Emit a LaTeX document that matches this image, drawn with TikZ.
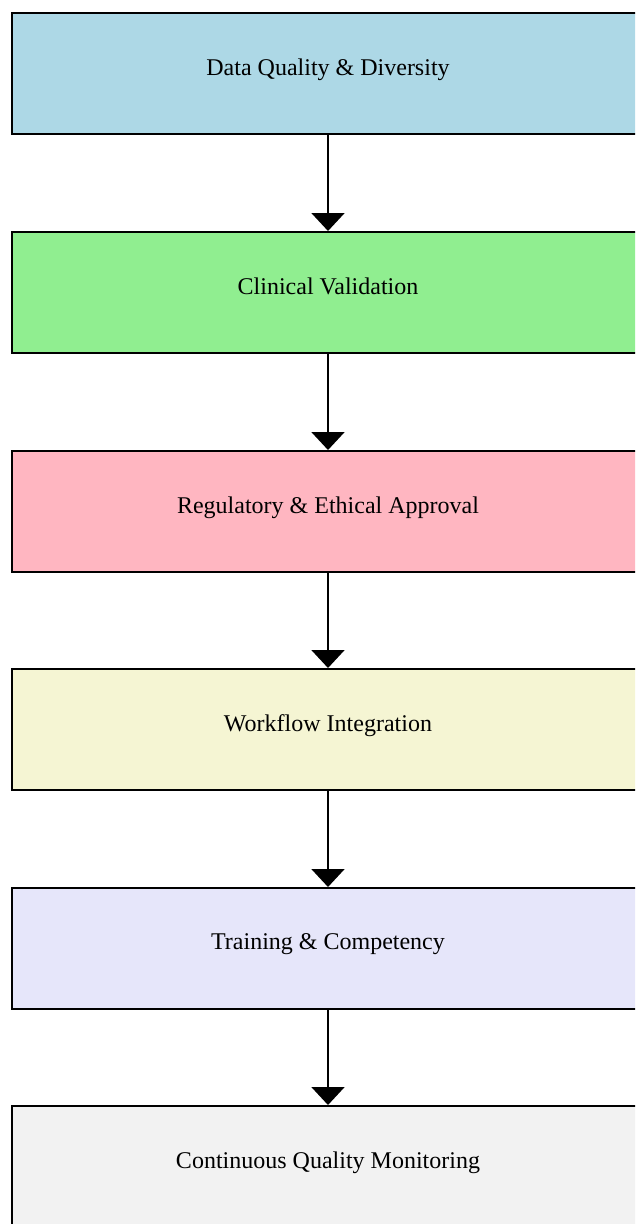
\documentclass[tikz,border=0pt]{standalone}
\usepackage{fontspec}
\setmainfont{Liberation Serif}
\usetikzlibrary{arrows.meta}
\definecolor{c1}{HTML}{ADD8E6}
\definecolor{c2}{HTML}{90EE90}
\definecolor{c3}{HTML}{FFB6C1}
\definecolor{c4}{HTML}{F5F5D3}
\definecolor{c5}{HTML}{E6E6FA}
\definecolor{c6}{HTML}{F2F2F2}
\tikzset{
  stagebox/.style={draw=black, line width=2pt, minimum width=632pt, minimum height=121pt, inner sep=0pt, font=\fontsize{24}{27}\selectfont},
  flowarrow/.style={draw=black, line width=2pt, -{Triangle[width=33pt,length=18pt]}}
}
\newcommand{\up}[1]{\raisebox{13pt}{#1}}
\begin{document}
\begin{tikzpicture}[x=1pt,y=1pt]
\useasboundingbox (0,0) rectangle (635,-1224);
\clip (0,0) rectangle (635,-1224);
\node[stagebox, fill=c1] (n1) at (328,-73.5) {\up{Data Quality \& Diversity}};
\node[stagebox, fill=c2] (n2) at (328,-292.5) {\up{Clinical Validation}};
\node[stagebox, fill=c3] (n3) at (328,-511.5) {\up{Regulatory \& Ethical Approval}};
\node[stagebox, fill=c4] (n4) at (328,-729.5) {\up{Workflow Integration}};
\node[stagebox, fill=c5] (n5) at (328,-948.5) {\up{Training \& Competency}};
\node[stagebox, fill=c6] (n6) at (328,-1166.5) {\up{Continuous Quality Monitoring}};
\draw[flowarrow] (n1.south) -- (n2.north);
\draw[flowarrow] (n2.south) -- (n3.north);
\draw[flowarrow] (n3.south) -- (n4.north);
\draw[flowarrow] (n4.south) -- (n5.north);
\draw[flowarrow] (n5.south) -- (n6.north);
\end{tikzpicture}
\end{document}
